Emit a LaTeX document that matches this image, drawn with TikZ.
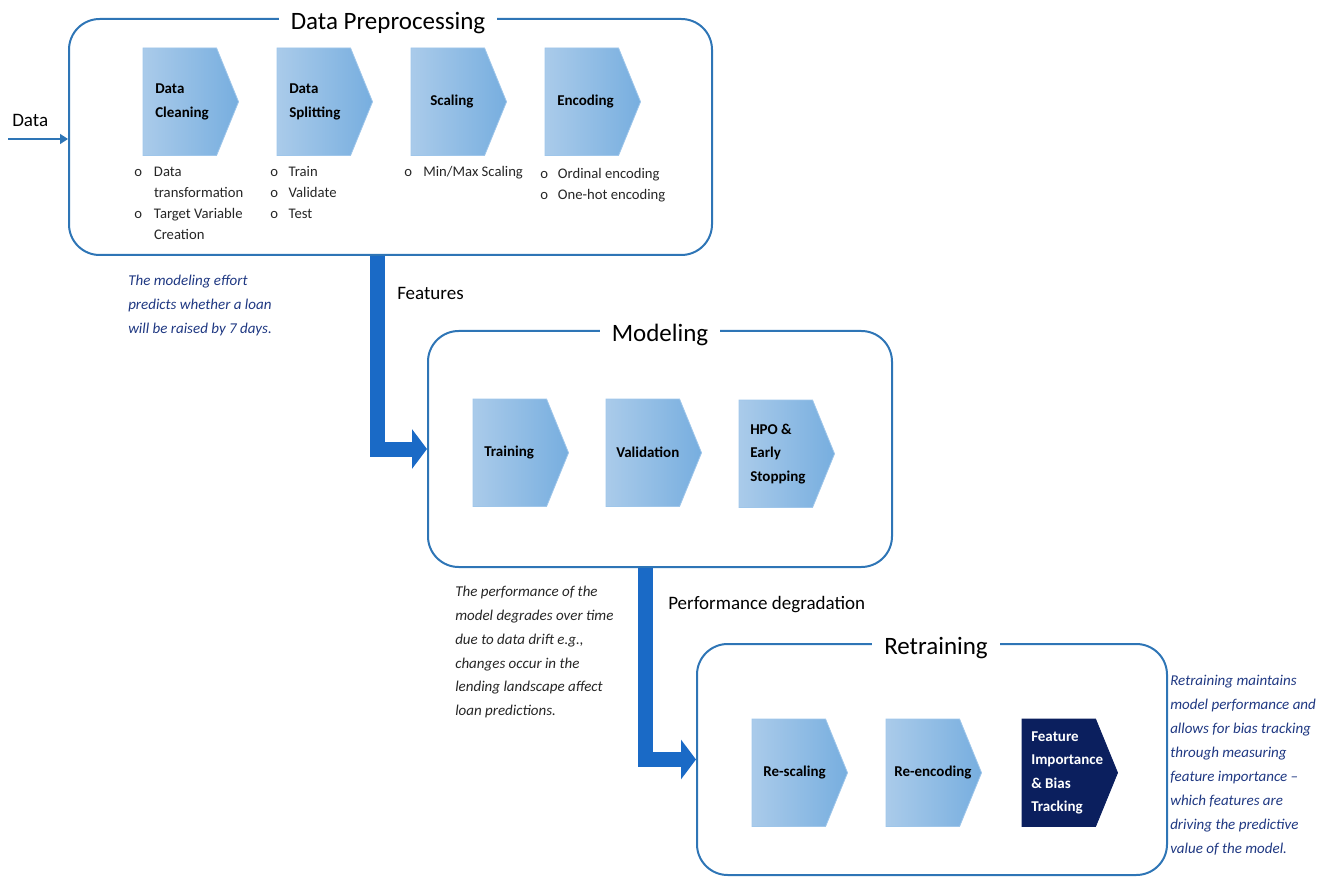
\documentclass[tikz,border=0pt]{standalone}
\usepackage{fontspec}
\setmainfont{Carlito}
\usetikzlibrary{arrows.meta,calc}

\definecolor{boxline}{HTML}{2E75B6}
\definecolor{flow}{HTML}{1A6AC6}
\definecolor{chevL}{HTML}{AACBEA}
\definecolor{chevR}{HTML}{77AEDF}
\definecolor{chevEdge}{HTML}{9FC6EA}
\definecolor{navy}{HTML}{0B1F5E}
\definecolor{notecol}{HTML}{1F3882}
\definecolor{darktext}{HTML}{262626}

% one drawing unit = one pixel, y grows downwards
\tikzset{
  x=0.75pt, y=-0.75pt,
  stagebox/.style={draw=boxline, line width=1.5pt, rounded corners=23pt,
    anchor=north west, inner sep=0},
  stagetitle/.style={fill=white, inner xsep=9pt, inner ysep=2pt, anchor=base,
    font=\fontsize{18.75}{22}\selectfont, text=black},
  chevframe/.style={rectangle, draw=none, inner sep=0,
    minimum width=71.25pt, minimum height=80.25pt},
  chevshade/.style={left color=chevL, right color=chevR, draw=chevEdge, line width=0.6pt},
  chevdark/.style={fill=navy, draw=navy, line width=0.6pt},
  chevlabel/.style={inner sep=0, align=left, text=black,
    font=\bfseries\fontsize{11.25}{17.5}\selectfont},
  chevlabeldark/.style={chevlabel, text=white},
  bulletlist/.style={anchor=north west, inner sep=0, text=darktext,
    font=\fontsize{11}{15.75}\selectfont},
  flowlabel/.style={anchor=west, inner sep=0, text=black,
    font=\fontsize{14.25}{17}\selectfont},
  note/.style={anchor=north west, inner sep=0, align=left, text=notecol,
    font=\itshape\fontsize{11.25}{18}\selectfont},
  flowarrow/.style={draw=flow, line width=11.25pt,
    -{Triangle[length=11.25pt, width=29.25pt]}},
  inarrow/.style={draw=boxline, line width=1.1pt,
    -{Triangle[length=6pt, width=7.5pt]}},
}

% a process chevron: name, left, top, fill style, label style, label offset, label
\newcommand\stagechevron[7]{%
  \node[chevframe, anchor=north west] (#1) at (#2,#3) {};
  \path[#4] (#1.north west) -- ($(#1.north east)+(-22,0)$) -- (#1.east)
    -- ($(#1.south east)+(-22,0)$) -- (#1.south west) -- cycle;
  \node[#5, anchor=west] (#1-text) at ($(#1.west)+(#6,0)$) {#7};
}

\begin{document}
\begin{tikzpicture}
\useasboundingbox (0,0) rectangle (1332,877);

% ---------------- Data preprocessing ----------------
\node[stagebox, minimum width=482.25pt, minimum height=177pt] (dp) at (68,18) {};
\node[stagetitle] (dp-title) at (388,30) {Data Preprocessing};

\stagechevron{clean}{143}{48}{chevshade}{chevlabel}{12}{Data\\Cleaning}
\stagechevron{split}{277}{48}{chevshade}{chevlabel}{12}{Data\\Splitting}
\stagechevron{scale}{411}{48}{chevshade}{chevlabel}{19}{Scaling}
\stagechevron{encode}{545}{48}{chevshade}{chevlabel}{12}{Encoding}

\node[bulletlist] (clean-list) at (134,162) {%
  \begin{tabular}{@{}l@{\hspace{9pt}}l@{}}
  o & Data\\ & transformation\\ o & Target Variable\\ & Creation
  \end{tabular}};
\node[bulletlist] (split-list) at (270,162) {%
  \begin{tabular}{@{}l@{\hspace{8pt}}l@{}}
  o & Train\\ o & Validate\\ o & Test
  \end{tabular}};
\node[bulletlist] (scale-list) at (404,162) {%
  \begin{tabular}{@{}l@{\hspace{8.5pt}}l@{}}
  o & Min/Max Scaling
  \end{tabular}};
\node[bulletlist] (encode-list) at (540,164) {%
  \begin{tabular}{@{}l@{\hspace{7.5pt}}l@{}}
  o & Ordinal encoding\\ o & One-hot encoding
  \end{tabular}};

\coordinate (data-src) at (8,139);
\draw[inarrow] (data-src) -- (data-src -| dp.west);
\node[flowlabel] (data-label) at (12,120) {Data};

\node[note] (dp-note) at (128,275) {The modeling effort\\predicts whether a loan\\will be raised by 7 days.};

% ---------------- Modeling ----------------
\node[stagebox, minimum width=348pt, minimum height=177pt] (mod) at (427,330) {};
\node[stagetitle] (mod-title) at (660,342) {Modeling};

\stagechevron{train}{473}{399}{chevshade}{chevlabel}{11}{Training}
\stagechevron{valid}{606}{399}{chevshade}{chevlabel}{10}{Validation}
\stagechevron{hpo}{739}{400}{chevshade}{chevlabel}{11}{HPO \&\\Early\\Stopping}

\coordinate (feat-x) at (377.5,0);
\draw[flowarrow] (dp.south -| feat-x) |- (mod.west);
\node[flowlabel] (feat-label) at (397,293) {Features};

\node[note, text=darktext, font=\itshape\fontsize{11.25}{17.85}\selectfont] (mod-note) at (455,586)
  {The performance of the\\model degrades over time\\due to data drift e.g.,\\changes occur in the\\lending landscape affect\\loan predictions.};

% ---------------- Retraining ----------------
\node[stagebox, minimum width=352.5pt, minimum height=173.25pt] (ret) at (696,643) {};
\node[stagetitle] (ret-title) at (936,654) {Retraining};

\stagechevron{rescale}{752}{719}{chevshade}{chevlabel}{11}{Re-scaling}
\stagechevron{reenc}{886}{719}{chevshade}{chevlabel}{8}{Re-encoding}
\stagechevron{featimp}{1022}{719}{chevdark}{chevlabeldark}{9}{Feature\\Importance\\\& Bias\\Tracking}

\coordinate (deg-x) at (645.5,0);
\draw[flowarrow] (mod.south -| deg-x) |- (ret.west);
\node[flowlabel] (deg-label) at (668,605) {Performance degradation};

\node[note] (ret-note) at (1170,675)
  {Retraining maintains\\model performance and\\allows for bias tracking\\through measuring\\feature importance –\\which features are\\driving the predictive\\value of the model.};
\end{tikzpicture}
\end{document}
